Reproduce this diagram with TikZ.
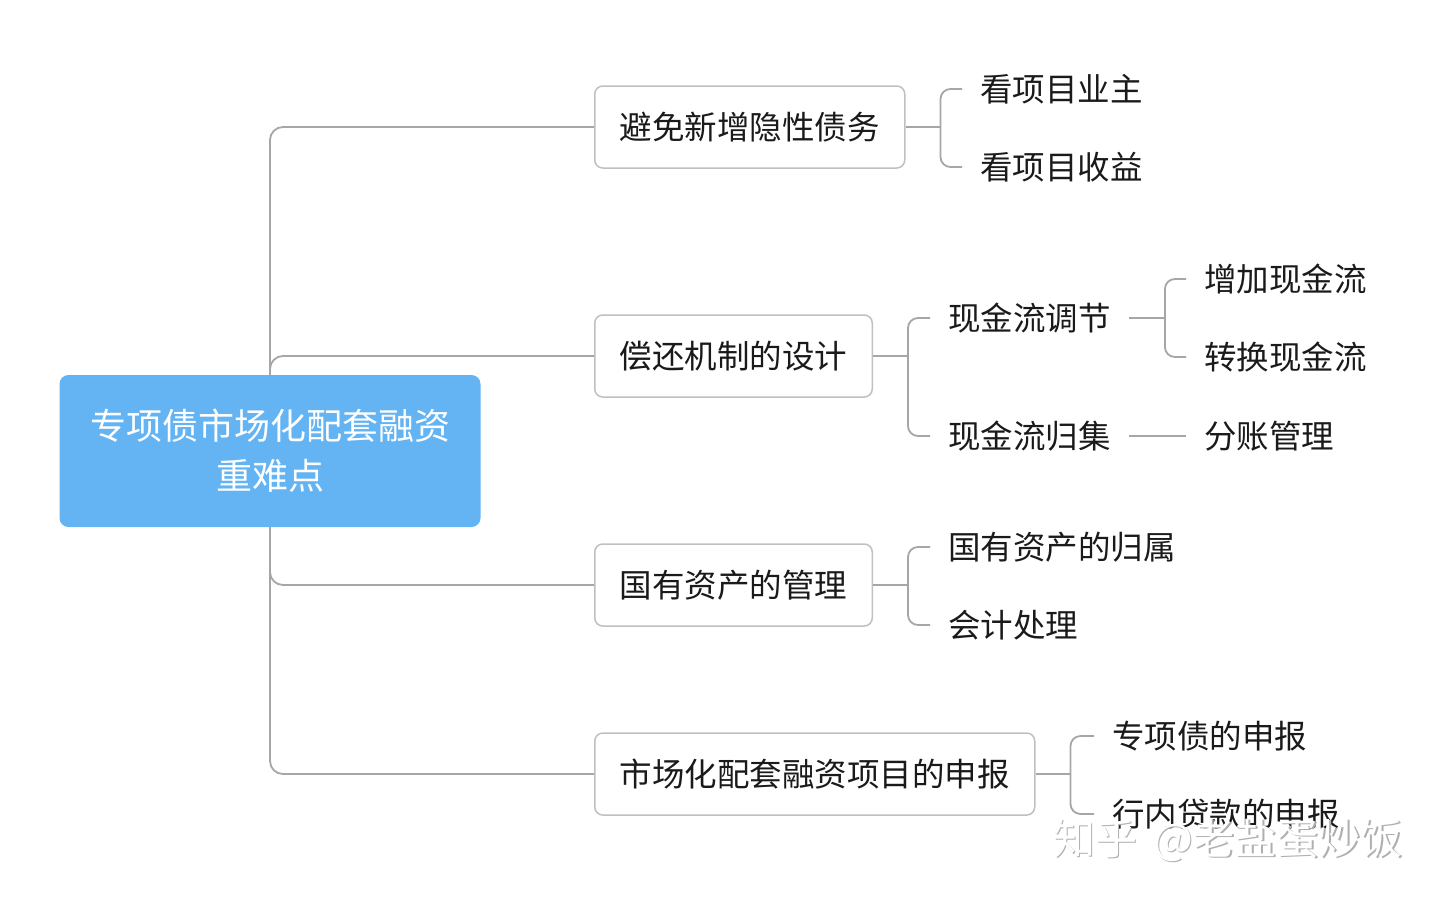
\documentclass[tikz,border=0pt]{standalone}
\usepackage{fontspec}
\setmainfont{Noto Sans CJK SC}
\definecolor{rootblue}{RGB}{100,180,244}
\definecolor{boxgray}{RGB}{192,192,192}
\definecolor{linegray}{RGB}{166,166,166}
\definecolor{txt}{RGB}{26,26,26}
\definecolor{wmgray}{RGB}{175,175,175}
\begin{document}
\begin{tikzpicture}[x=1pt,y=-1pt,
  rootbox/.style={fill=rootblue, rounded corners=9pt, minimum width=421pt, minimum height=152pt,
    text=white, align=center, inner sep=0pt, font=\fontsize{36}{50}\selectfont},
  lbox/.style={draw=boxgray, line width=1.5pt, fill=white, rounded corners=8pt, minimum height=82pt,
    inner xsep=25pt, inner ysep=0pt, font=\fontsize{32.5}{38}\selectfont, text=txt, anchor=west},
  leaf/.style={inner xsep=18pt, inner ysep=0pt, font=\fontsize{32.5}{38}\selectfont, text=txt, anchor=west},
  conn/.style={draw=linegray, line width=1.8pt, rounded corners=13pt},
  brk/.style={draw=linegray, line width=1.8pt, rounded corners=10pt},
  wm/.style={font=\fontsize{42}{46}\selectfont, anchor=west, inner sep=0pt}]
\useasboundingbox (0,0) rectangle (1440,903);

% root
\node[rootbox] (root) at (270,451) {专项债市场化配套融资\\重难点};

% level 1 boxes
\node[lbox] (b1) at (594,127) {避免新增隐性债务};
\node[lbox] (b2) at (594,356) {偿还机制的设计};
\node[lbox] (b3) at (594,585) {国有资产的管理};
\node[lbox] (b4) at (594,774) {市场化配套融资项目的申报};

% trunk connectors
\draw[conn] (root.north) |- (b1.west);
\draw[conn] (root.north) |- (b2.west);
\draw[conn] (root.south) |- (b3.west);
\draw[conn] (root.south) |- (b4.west);

% level 2
\node[leaf] (a11) at (962,89) {看项目业主};
\node[leaf] (a12) at (962,167) {看项目收益};
\node[leaf] (a21) at (930,318) {现金流调节};
\node[leaf] (a22) at (930,436) {现金流归集};
\node[leaf] (a31) at (930,547) {国有资产的归属};
\node[leaf] (a32) at (930,625) {会计处理};
\node[leaf] (a41) at (1094,736) {专项债的申报};
\node[leaf] (a42) at (1094,814) {行内贷款的申报};

% level 3
\node[leaf] (c211) at (1186,279) {增加现金流};
\node[leaf] (c212) at (1186,357) {转换现金流};
\node[leaf] (c221) at (1186,436) {分账管理};

% brackets
\coordinate (j1) at ([xshift=35pt]b1.east);
\draw[conn] (b1.east) -- (j1);
\draw[brk] (j1) |- (a11.west);
\draw[brk] (j1) |- (a12.west);

\coordinate (j2) at ([xshift=35pt]b2.east);
\draw[conn] (b2.east) -- (j2);
\draw[brk] (j2) |- (a21.west);
\draw[brk] (j2) |- (a22.west);

\coordinate (j3) at ([xshift=35pt]b3.east);
\draw[conn] (b3.east) -- (j3);
\draw[brk] (j3) |- (a31.west);
\draw[brk] (j3) |- (a32.west);

\coordinate (j4) at ([xshift=35pt]b4.east);
\draw[conn] (b4.east) -- (j4);
\draw[brk] (j4) |- (a41.west);
\draw[brk] (j4) |- (a42.west);

\coordinate (j21) at ([xshift=36pt]a21.east);
\draw[conn] (a21.east) -- (j21);
\draw[brk] (j21) |- (c211.west);
\draw[brk] (j21) |- (c212.west);

\draw[conn] (a22.east) -- (c221.west);

% watermark (embossed look: gray shadow, white face)
\node[wm, text=wmgray] (wmshadow) at (1054.5,841.5) {知乎\hspace{16pt}@老盐蛋炒饭};
\node[wm, text=white] (wmk) at (1053,840) {知乎\hspace{16pt}@老盐蛋炒饭};
\end{tikzpicture}
\end{document}
